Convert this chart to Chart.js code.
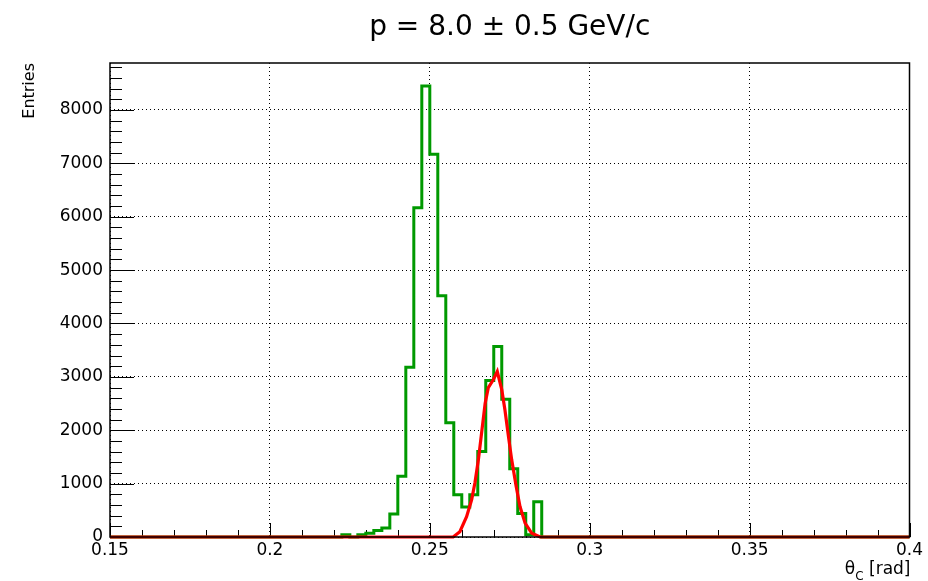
<!DOCTYPE html>
<html>
<head>
<meta charset="utf-8">
<script src="https://cdn.jsdelivr.net/npm/chart.js@4.4.1/dist/chart.umd.min.js"></script>
<style>
  html, body { margin: 0; padding: 0; background: #fff; }
</style>
</head>
<body>
<canvas id="grafico" width="928" height="581"></canvas>
<script>
const titulo = "p = 8.0 \u00b1 0.5 GeV/c";
const tituloY = "Entries";

// histogram: low edge of each filled bin (width 0.0025) and its content
const binEdges = [0.2225, 0.225, 0.2275, 0.23, 0.2325, 0.235, 0.2375, 0.24, 0.2425, 0.245,
  0.2475, 0.25, 0.2525, 0.255, 0.2575, 0.26, 0.2625, 0.265, 0.2675, 0.27,
  0.2725, 0.275, 0.2775, 0.28, 0.2825, 0.285];
const binCounts = [40, 0, 40, 70, 120, 170, 430, 1140, 3180, 6170,
  8450, 7170, 4520, 2140, 790, 560, 790, 1600, 2930, 3570,
  2580, 1280, 440, 40, 660, 0];

// fitted curve
const fitX = [0.15, 0.2573, 0.2594, 0.2615, 0.2631, 0.2641, 0.2652, 0.2662, 0.2673, 0.2683,
  0.2699, 0.2711, 0.2725, 0.2735, 0.2746, 0.2756, 0.2770, 0.2782, 0.2798, 0.2819, 0.2845, 0.4];
const fitY = [0, 0, 100, 380, 700, 1010, 1450, 1950, 2500, 2800,
  2950, 3100, 2760, 2380, 1880, 1450, 950, 570, 260, 70, 0, 0];

const xTickValues = [0.15, 0.2, 0.25, 0.3, 0.35, 0.4];
const xTickLabels = ["0.15", "0.2", "0.25", "0.3", "0.35", "0.4"];
const yTickValues = [0, 1000, 2000, 3000, 4000, 5000, 6000, 7000, 8000];
const yTickLabels = ["0", "1000", "2000", "3000", "4000", "5000", "6000", "7000", "8000"];

const fonte = "'DejaVu Sans', sans-serif";
Chart.defaults.color = "#000";
Chart.defaults.font.family = fonte;

const pontosHist = [{ x: 0.15, y: 0 }]
  .concat(binEdges.map((x, i) => ({ x, y: binCounts[i] })))
  .concat([{ x: 0.4, y: 0 }]);
const pontosFit = fitX.map((x, i) => ({ x, y: fitY[i] }));

// ROOT-like frame, tick marks and x axis title
const molduraRoot = {
  id: "molduraRoot",
  beforeDatasetsDraw(chart) {
    const { ctx, chartArea: a, scales: { x, y } } = chart;
    ctx.save();
    ctx.strokeStyle = "#000";
    ctx.lineWidth = 1;
    ctx.beginPath();
    for (let v = 0; v <= 8800; v += 200) {
      const py = Math.round(y.getPixelForValue(v)) + 0.5;
      const len = v % 1000 === 0 ? 24 : 12;
      ctx.moveTo(a.left, py);
      ctx.lineTo(a.left + len, py);
    }
    for (let i = 0; i <= 25; i++) {
      const px = Math.round(x.getPixelForValue(0.15 + i * 0.01)) + 0.5;
      const len = i % 5 === 0 ? 14 : 7;
      ctx.moveTo(px, a.bottom);
      ctx.lineTo(px, a.bottom - len);
    }
    ctx.stroke();
    ctx.restore();
  },
  afterDatasetsDraw(chart) {
    const { ctx, chartArea: a } = chart;
    ctx.save();
    ctx.strokeStyle = "#000";
    ctx.lineWidth = 1.5;
    ctx.strokeRect(a.left, a.top, a.right - a.left, a.bottom - a.top);

    // θ_C [rad]
    ctx.fillStyle = "#000";
    ctx.textBaseline = "alphabetic";
    ctx.textAlign = "left";
    const base = 574;
    ctx.font = "17px " + fonte;
    const resto = " [rad]";
    const wResto = ctx.measureText(resto).width;
    const wTheta = ctx.measureText("\u03b8").width;
    ctx.font = "12px " + fonte;
    const wC = ctx.measureText("C").width;
    const fim = a.right + 1;
    let xi = fim - wResto - wC - wTheta;
    ctx.font = "17px " + fonte;
    ctx.fillText("\u03b8", xi, base);
    ctx.font = "12px " + fonte;
    ctx.fillText("C", xi + wTheta, base + 6);
    ctx.font = "17px " + fonte;
    ctx.fillText(resto, xi + wTheta + wC, base);
    ctx.restore();
  }
};

new Chart(document.getElementById("grafico"), {
  type: "line",
  data: {
    datasets: [
      { label: "fit", data: pontosFit, borderColor: "#ff0000", borderWidth: 3.2,
        pointRadius: 0, tension: 0, fill: false, clip: false },
      { label: "hist", data: pontosHist, borderColor: "#009900", borderWidth: 3,
        pointRadius: 0, stepped: "before", fill: false, clip: false }
    ]
  },
  options: {
    responsive: false,
    animation: false,
    layout: { padding: { left: 0, right: 18.5, top: 0, bottom: 0 } },
    plugins: {
      legend: { display: false },
      tooltip: { enabled: false },
      title: {
        display: true,
        text: titulo,
        fullSize: false,
        color: "#000",
        font: { family: fonte, size: 28, weight: "normal" },
        padding: { top: 11, bottom: 18.4 }
      }
    },
    scales: {
      x: {
        type: "linear",
        min: 0.15,
        max: 0.4,
        afterBuildTicks: (s) => { s.ticks = xTickValues.map((v) => ({ value: v })); },
        afterFit: (s) => { s.height = 44; },
        ticks: {
          callback: (v, i) => xTickLabels[i],
          font: { family: fonte, size: 17 },
          padding: 3,
          maxRotation: 0,
          autoSkip: false
        },
        grid: { color: "#000", lineWidth: 1, drawTicks: false },
        border: { display: false, dash: [1, 3] }
      },
      y: {
        min: 0,
        max: 8880,
        afterBuildTicks: (s) => { s.ticks = yTickValues.map((v) => ({ value: v })); },
        afterFit: (s) => { s.width = 110; },
        ticks: {
          callback: (v, i) => yTickLabels[i],
          font: { family: fonte, size: 17 },
          padding: 7,
          autoSkip: false
        },
        grid: { color: "#000", lineWidth: 1, drawTicks: false },
        border: { display: false, dash: [1, 3] },
        title: {
          display: true,
          text: tituloY,
          align: "end",
          font: { family: fonte, size: 16 },
          padding: { top: 20, bottom: 0 }
        }
      }
    }
  },
  plugins: [molduraRoot]
});
</script>
</body>
</html>
